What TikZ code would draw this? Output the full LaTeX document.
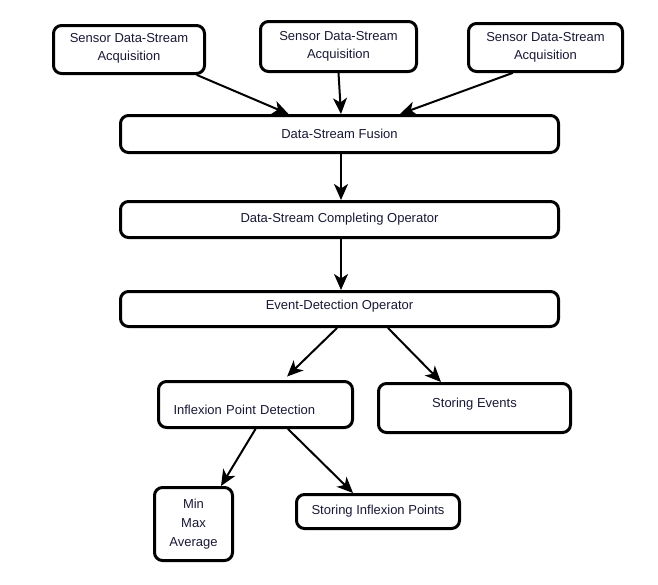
\documentclass[tikz,border=0pt]{standalone}
\usepackage{fontspec}
\setmainfont{Liberation Sans}
\usetikzlibrary{arrows.meta}
\definecolor{txtcol}{RGB}{24,24,52}
\begin{document}
\begin{tikzpicture}[x=1pt, y=1pt, line join=round, line cap=round,
	font=\fontsize{13}{18}\selectfont,
	box/.style={draw, line width=3pt, rounded corners=8pt, text=txtcol, align=center, inner sep=2pt},
	arr/.style={-{Stealth[length=16pt, width=14pt, inset=4.5pt]}, line width=2pt}]
			\useasboundingbox (0,0) rectangle (658,-584);
			\node (s1) at (129,-49.5) [box, minimum width=151, minimum height=48]{\\[-12pt]Sensor Data-Stream\\Acquisition};
			\node (s2) at (338.5,-46.5) [box, minimum width=156, minimum height=50]{Sensor Data-Stream\\Acquisition};
			\node (s3) at (545.5,-47.5) [box, minimum width=154, minimum height=48]{Sensor Data-Stream\\Acquisition};
			\node (fusion) at (339.5,-134) [box, minimum width=438, minimum height=37]{Data-Stream Fusion};
			\node (complete) at (339.5,-219.5) [box, minimum width=438, minimum height=36]{Data-Stream Completing Operator};
			\node (event) at (339.5,-309) [box, minimum width=438, minimum height=35, text height=9.5pt, text depth=9pt]{Event-Detection Operator};
			\node (inflex) at (255.5,-404.5) [box, minimum width=194, minimum height=46, text width=164, align=left, text height=22pt, text depth=3pt]{Inflexion Point Detection};
			\node (storev) at (474.5,-408) [box, minimum width=192, minimum height=49, text height=9.5pt, text depth=11pt]{Storing Events};
			\node (mma) at (193.5,-524) [box, minimum width=78, minimum height=73]{Min\\[1pt]Max\\[1pt]Average};
			\node (storinf) at (378,-511.5) [box, minimum width=163, minimum height=34]{Storing Inflexion Points};
			\draw[arr] ([xshift=-9pt]s1.south east)--([xshift=-51pt]fusion.north);
			\draw[arr] (s2.south)--([xshift=1.5pt]fusion.north);
			\draw[arr] ([xshift=-33pt]s3.south)--([xshift=60.5pt]fusion.north);
			\draw[arr] ([xshift=1.5pt]fusion.south)--([xshift=1.5pt]complete.north);
			\draw[arr] ([xshift=1.5pt]complete.south)--([xshift=1.5pt]event.north);
			\draw[arr, shorten >=5pt] ([xshift=-2.5pt]event.south)--([xshift=28pt]inflex.north);
			\draw[arr] ([xshift=48.5pt]event.south)--([xshift=-33.5pt]storev.north);
			\draw[arr] (inflex.south)--([xshift=27.5pt]mma.north);
			\draw[arr] ([xshift=32.5pt]inflex.south)--([xshift=-25pt]storinf.north);
			\end{tikzpicture}
\end{document}
